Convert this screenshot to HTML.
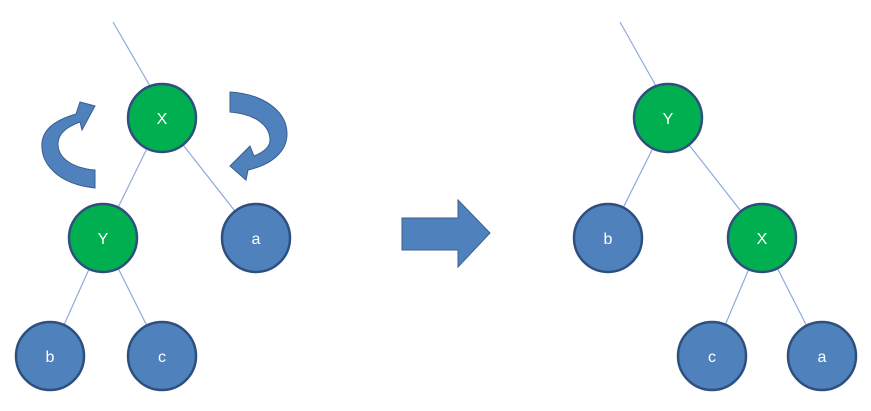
<!DOCTYPE html>
<html><head><style>body{margin:0;background:#fff}</style></head><body>
<svg width="871" height="406" xmlns="http://www.w3.org/2000/svg" font-family="Liberation Sans, sans-serif">
<g stroke="#8eaadb" stroke-width="1.2">
<line x1="113" y1="22" x2="150" y2="86"/>
<line x1="162" y1="118" x2="103" y2="238"/>
<line x1="162" y1="118" x2="256" y2="238"/>
<line x1="103" y1="238" x2="50" y2="356"/>
<line x1="103" y1="238" x2="162" y2="356"/>
<line x1="620" y1="22" x2="656" y2="86"/>
<line x1="668" y1="118" x2="608" y2="238"/>
<line x1="668" y1="118" x2="762" y2="238"/>
<line x1="762" y1="238" x2="712" y2="356"/>
<line x1="762" y1="238" x2="822" y2="356"/>
</g>
<g stroke="#2f4f7f" stroke-width="2.5">
<circle cx="162" cy="118" r="34" fill="#00b050"/>
<circle cx="103" cy="238" r="34" fill="#00b050"/>
<circle cx="256" cy="238" r="34" fill="#4f81bd"/>
<circle cx="50" cy="356" r="34" fill="#4f81bd"/>
<circle cx="162" cy="356" r="34" fill="#4f81bd"/>
<circle cx="668" cy="118" r="34" fill="#00b050"/>
<circle cx="608" cy="238" r="34" fill="#4f81bd"/>
<circle cx="762" cy="238" r="34" fill="#00b050"/>
<circle cx="712" cy="356" r="34" fill="#4f81bd"/>
<circle cx="822" cy="356" r="34" fill="#4f81bd"/>
</g>
<g fill="#fff" font-size="16" text-anchor="middle">
<text x="162" y="124">X</text><text x="103" y="244">Y</text><text x="256" y="244">a</text>
<text x="50" y="362">b</text><text x="162" y="362">c</text>
<text x="668" y="124">Y</text><text x="608" y="244">b</text><text x="762" y="244">X</text>
<text x="712" y="362">c</text><text x="822" y="362">a</text>
</g>
<g fill="#4f81bd" stroke="#3a5f8f" stroke-width="1">
<path d="M95,170 L95,188 C58,184 40,164 42,142 C44,128 56,120 76,114 L80,102 L95,106 L82,130 L80,122 C66,127 58,134 58,144 C58,158 72,168 95,170 Z"/>
<path d="M230,92 L230,112 C256,114 270,126 270,140 C270,147 264,152 254,156 L250,146 L230,166 L246,180 L248,170 C274,164 287,150 287,134 C287,110 262,94 230,92 Z"/>
<path d="M402,218 L458,218 L458,200 L490,233 L458,267 L458,250 L402,250 Z"/>
</g>
</svg>
</body></html>
